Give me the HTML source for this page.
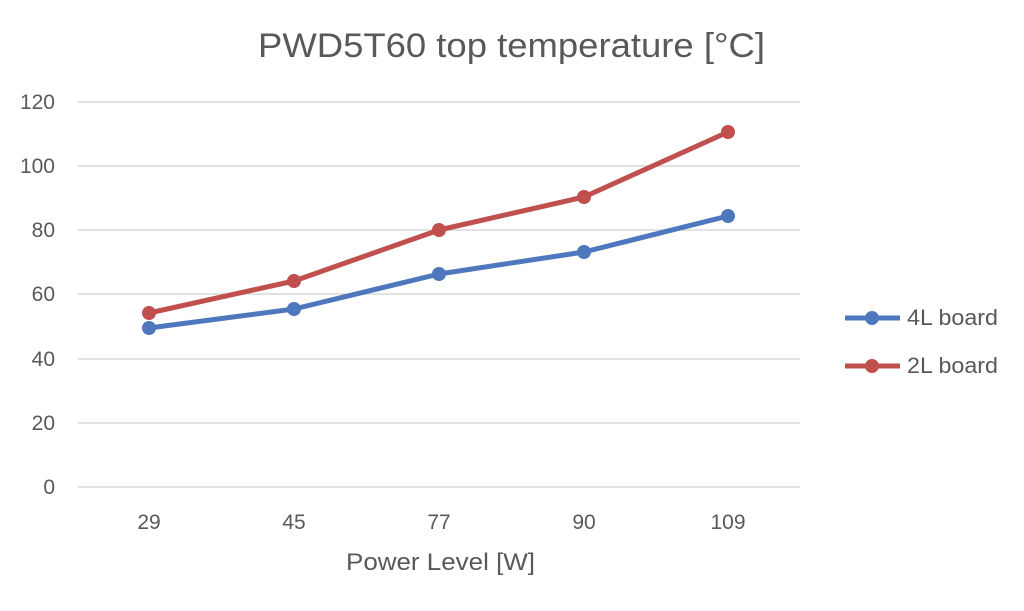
<!DOCTYPE html>
<html><head><meta charset="utf-8"><style>
html,body{margin:0;padding:0;background:#fff;}
svg{display:block;font-family:"Liberation Sans",sans-serif;}
</style></head><body>
<svg width="1024" height="611" viewBox="0 0 1024 611">
<rect width="1024" height="611" fill="#fff"/>
<text x="258" y="57" font-size="34" fill="#595959" textLength="507" lengthAdjust="spacingAndGlyphs">PWD5T60 top temperature [°C]</text>
<g stroke="#d9d9d9" stroke-width="1.5">
<line x1="78" y1="102" x2="800" y2="102"/>
<line x1="78" y1="166" x2="800" y2="166"/>
<line x1="78" y1="230" x2="800" y2="230"/>
<line x1="78" y1="294" x2="800" y2="294"/>
<line x1="78" y1="359" x2="800" y2="359"/>
<line x1="78" y1="423" x2="800" y2="423"/>
<line x1="78" y1="487" x2="800" y2="487"/>
</g>
<g font-size="21" fill="#595959" text-anchor="end">
<text x="55" y="109">120</text>
<text x="55" y="173">100</text>
<text x="55" y="237">80</text>
<text x="55" y="301">60</text>
<text x="55" y="366">40</text>
<text x="55" y="430">20</text>
<text x="55" y="494">0</text>
</g>
<g font-size="21" fill="#595959" text-anchor="middle">
<text x="149" y="529">29</text>
<text x="294" y="529">45</text>
<text x="439" y="529">77</text>
<text x="584" y="529">90</text>
<text x="728" y="529">109</text>
</g>
<text x="346" y="570" font-size="24" fill="#595959" textLength="189" lengthAdjust="spacingAndGlyphs">Power Level [W]</text>
<polyline points="149,328 294,309 439,274 584,252 728,216" fill="none" stroke="#4f77be" stroke-width="5" stroke-linejoin="round"/>
<g fill="#4f77be">
<circle cx="149" cy="328" r="7"/><circle cx="294" cy="309" r="7"/><circle cx="439" cy="274" r="7"/><circle cx="584" cy="252" r="7"/><circle cx="728" cy="216" r="7"/>
</g>
<polyline points="149,313 294,281 439,230 584,197 728,132" fill="none" stroke="#bf504d" stroke-width="5" stroke-linejoin="round"/>
<g fill="#bf504d">
<circle cx="149" cy="313" r="7"/><circle cx="294" cy="281" r="7"/><circle cx="439" cy="230" r="7"/><circle cx="584" cy="197" r="7"/><circle cx="728" cy="132" r="7"/>
</g>
<line x1="845" y1="318" x2="900" y2="318" stroke="#4f77be" stroke-width="5"/>
<circle cx="872" cy="318" r="7" fill="#4f77be"/>
<text x="907" y="325" font-size="22" fill="#595959" textLength="91" lengthAdjust="spacingAndGlyphs">4L board</text>
<line x1="845" y1="366" x2="900" y2="366" stroke="#bf504d" stroke-width="5"/>
<circle cx="872" cy="366" r="7" fill="#bf504d"/>
<text x="907" y="373" font-size="22" fill="#595959" textLength="91" lengthAdjust="spacingAndGlyphs">2L board</text>
</svg>
</body></html>
